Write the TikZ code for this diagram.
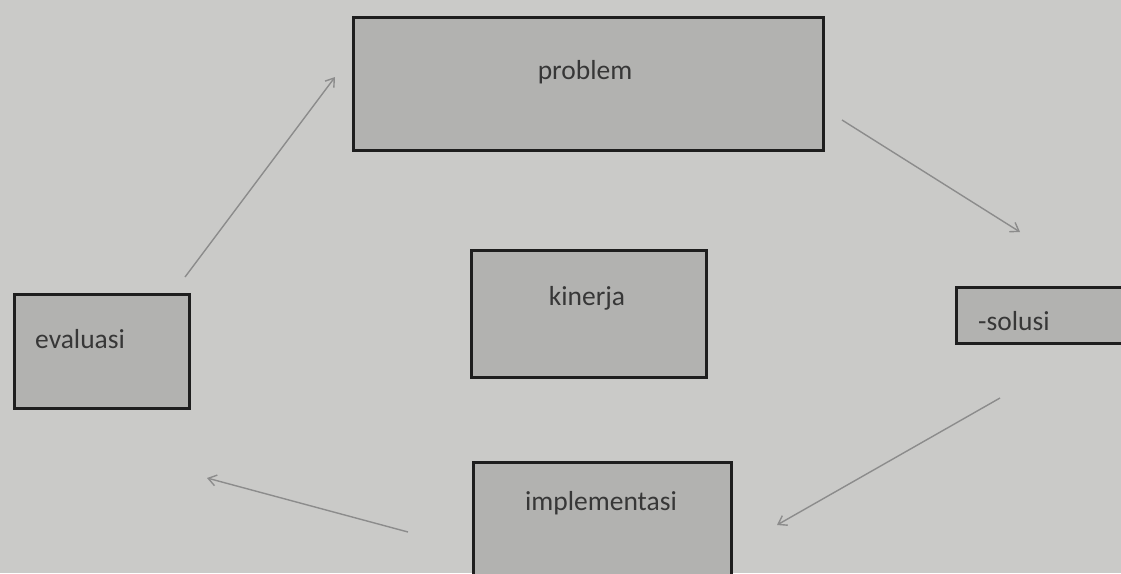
\documentclass[tikz,border=0pt]{standalone}
\usepackage{fontspec}
\setmainfont{Carlito}
\usetikzlibrary{arrows.meta}
\definecolor{paper}{RGB}{202,202,200}
\definecolor{boxfill}{RGB}{178,178,176}
\definecolor{boxline}{RGB}{30,30,30}
\definecolor{arrowc}{RGB}{140,140,140}
\definecolor{txt}{RGB}{55,55,55}
\tikzset{
  box/.style={draw=boxline, fill=boxfill, line width=3.4pt, inner sep=0pt, anchor=north west},
  lbl/.style={text=txt, font=\fontsize{27.5}{30}\selectfont, inner sep=0pt},
  conn/.style={draw=arrowc, line width=1.4pt, -{Straight Barb[length=8pt,width=11pt]}}
}
\begin{document}
\begin{tikzpicture}[x=1pt,y=-1pt]
\useasboundingbox (0,0) rectangle (1121,573);
\fill[paper] (0,0) rectangle (1121,573);
\clip (0,0) rectangle (1121,573);
% boxes
\node[box, minimum width=470pt, minimum height=133pt] (problem) at (352,16) {};
\node[box, minimum width=175pt, minimum height=114pt] (evaluasi) at (13,293) {};
\node[box, minimum width=235pt, minimum height=127pt] (kinerja) at (470,249) {};
\node[box, minimum width=200pt, minimum height=56pt] (solusi) at (955,286) {};
\node[box, minimum width=258pt, minimum height=150pt] (impl) at (472,461) {};
% labels
\node[lbl] (tproblem) at (585,72) {problem};
\node[lbl, anchor=west] (tevaluasi) at (35,339) {evaluasi};
\node[lbl] (tkinerja) at (587,298) {kinerja};
\node[lbl, anchor=west] (tsolusi) at (978,321) {-solusi};
\node[lbl] (timpl) at (601,503) {implementasi};
% connector ends
\coordinate (e1) at (185,277); \coordinate (p1) at (335,77);
\coordinate (p2) at (842,120); \coordinate (s1) at (1020,232);
\coordinate (s2) at (1000,398); \coordinate (i1) at (777,525);
\coordinate (i2) at (408,532); \coordinate (e2) at (207,478);
\draw[conn] (e1) -- (p1);
\draw[conn] (p2) -- (s1);
\draw[conn] (s2) -- (i1);
\draw[conn] (i2) -- (e2);
\end{tikzpicture}
\end{document}
